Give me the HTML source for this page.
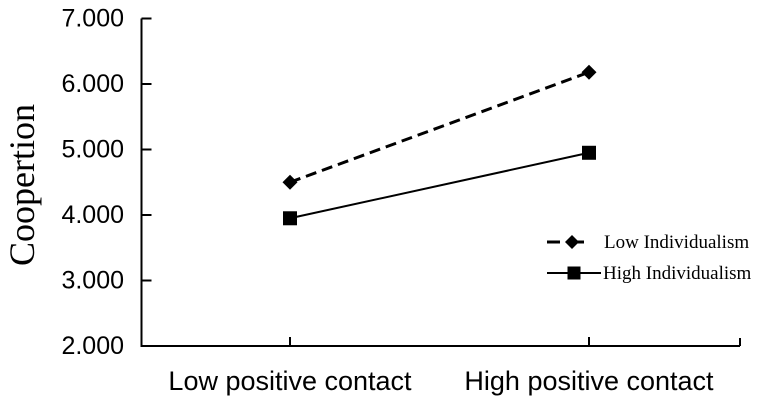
<!DOCTYPE html>
<html><head><meta charset="utf-8"><style>
html,body{margin:0;padding:0;background:#fff;width:768px;height:402px;overflow:hidden}
</style></head><body>
<svg id="chart" width="768" height="402" xmlns="http://www.w3.org/2000/svg">
<g id="axes"></g><g id="series"></g><g id="legend"></g>
</svg>
<script>
const categories = ["Low positive contact", "High positive contact"];
const lowIndividualism = [4.5, 6.18];
const highIndividualism = [3.95, 4.95];
const yTicks = [2, 3, 4, 5, 6, 7];
const yTickLabels = ["2.000", "3.000", "4.000", "5.000", "6.000", "7.000"];

const NS = "http://www.w3.org/2000/svg";
const x0 = 141.5, x1 = 740, yTop = 18.5, yBot = 346;
const catX = [290, 589];
function y(v){ return yBot - (v - 2) / 5 * (yBot - yTop); }
function x(i){ return catX[i]; }
function mk(tag, attrs, parent, text){
  const e = document.createElementNS(NS, tag);
  for (const k in attrs) e.setAttribute(k, attrs[k]);
  if (text !== undefined) e.textContent = text;
  parent.appendChild(e); return e;
}
const axes = document.getElementById("axes");
const series = document.getElementById("series");
const legend = document.getElementById("legend");

let yAxis = mk("line", {x1:x0, y1:yTop, x2:x0, y2:yBot, stroke:"#000", "stroke-width":2}, axes);


let xAxis = mk("line", {x1:x0-1, y1:yBot, x2:x1, y2:yBot, stroke:"#000", "stroke-width":2}, axes);


let rEnd = mk("line", {x1:x1, y1:yBot, x2:x1, y2:yBot-8, stroke:"#000", "stroke-width":2}, axes);



yTicks.forEach((t, i) => {
  if (t !== 2) {
    let tk = mk("line", {x1:x0, y1:y(t), x2:x0+10, y2:y(t), stroke:"#000", "stroke-width":2}, axes);
    
    
  }
  let lb = mk("text", {x:124, y:y(t)+8, "text-anchor":"end", "font-family":"Liberation Sans, sans-serif", "font-size":25, fill:"#000"}, axes, yTickLabels[i]);
  
  
});
categories.forEach((c, i) => {
  let tk = mk("line", {x1:x(i), y1:yBot, x2:x(i), y2:yBot-9, stroke:"#000", "stroke-width":2}, axes);
  
  
  let lb = mk("text", {x:x(i), y:390, "text-anchor":"middle", "font-family":"Liberation Sans, sans-serif", "font-size":27, fill:"#000"}, axes, c);
  
  
});
let yt = mk("text", {x:0, y:0, transform:"translate(34,185) rotate(-90)", "text-anchor":"middle", "font-family":"Liberation Serif, serif", "font-size":36, fill:"#000"}, axes, "Coopertion");



function diamond(cx, cy, r, parent){
  return mk("polygon", {points:`${cx},${cy-r} ${cx+r},${cy} ${cx},${cy+r} ${cx-r},${cy}`, fill:"#000"}, parent);
}
function square(cx, cy, s, parent){
  return mk("rect", {x:cx-s/2, y:cy-s/2, width:s, height:s, fill:"#000"}, parent);
}

let l1 = mk("polyline", {points:lowIndividualism.map((v,i)=>x(i)+","+y(v)).join(" "), fill:"none", stroke:"#000", "stroke-width":3, "stroke-dasharray":"11,6"}, series);


lowIndividualism.forEach((v,i)=>{
  let m = diamond(x(i), y(v), 7.5, series);
  
  
});
let l2 = mk("polyline", {points:highIndividualism.map((v,i)=>x(i)+","+y(v)).join(" "), fill:"none", stroke:"#000", "stroke-width":2}, series);


highIndividualism.forEach((v,i)=>{
  let m = square(x(i), y(v), 14, series);
  
  
});

let g1 = mk("g", {}, legend);


mk("line", {x1:547, y1:242, x2:560, y2:242, stroke:"#000", "stroke-width":3}, g1);
mk("line", {x1:570, y1:242, x2:584, y2:242, stroke:"#000", "stroke-width":3}, g1);
diamond(572, 242, 7, g1);
mk("text", {x:604, y:248, "font-family":"Liberation Serif, serif", "font-size":19, fill:"#000"}, g1, "Low Individualism");
let g2 = mk("g", {}, legend);


mk("line", {x1:547, y1:273, x2:601, y2:273, stroke:"#000", "stroke-width":2}, g2);
square(574, 273, 13, g2);
mk("text", {x:603, y:279, "font-family":"Liberation Serif, serif", "font-size":19, fill:"#000"}, g2, "High Individualism");
</script>
</body></html>
